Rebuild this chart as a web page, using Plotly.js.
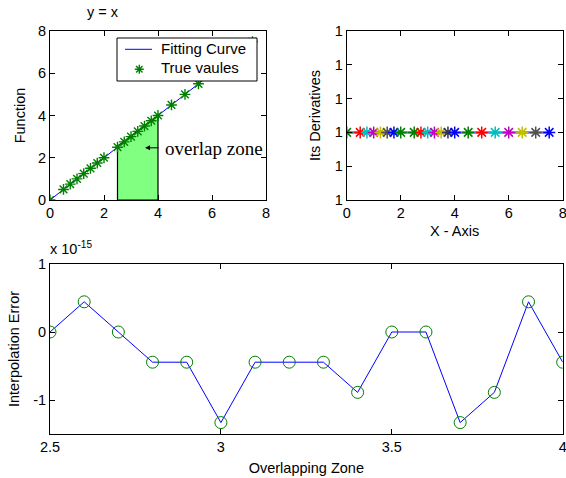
<!DOCTYPE html>
<html>
<head>
<meta charset="utf-8">
<script src="https://cdn.plot.ly/plotly-3.0.1.min.js"></script>
<style>html,body{margin:0;padding:0;background:#fff;}#chart{width:566px;height:478px;}</style>
</head>
<body>
<div id="chart"></div>
<script>
// ---- data ----
const sampleX = [0, 0.5, 0.75, 1, 1.25, 1.5, 1.75, 2, 2.5, 2.75, 3, 3.25, 3.5, 3.75, 4, 4.5, 5, 5.5, 6, 6.5, 7, 7.5];
const fitY    = [0, 0.5, 0.75, 1, 1.25, 1.5, 1.75, 2, 2.5, 2.75, 3, 3.25, 3.5, 3.75, 4, 4.5, 5, 5.5, 6, 6.5, 7, 7.5];
const trueY   = [0, 0.5, 0.75, 1, 1.25, 1.5, 1.75, 2, 2.5, 2.75, 3, 3.25, 3.5, 3.75, 4, 4.5, 5, 5.5, 6, 6.5, 7, 7.5];
const overlapX = [2.5, 2.5, 2.78, 4, 4, 2.5];
const overlapY = [0, 2.55, 2.8, 4, 0, 0];
const derivY  = [1, 1, 1, 1, 1, 1, 1, 1, 1, 1, 1, 1, 1, 1, 1, 1, 1, 1, 1, 1, 1, 1];
const derivColors = ['#008000','#ff0000','#00bfbf','#bf00bf','#bfbf00','#505050','#0000ff',
                     '#008000','#008000','#ff0000','#00bfbf','#bf00bf','#bfbf00','#303050','#0000ff',
                     '#008000','#ff0000','#00bfbf','#bf00bf','#bfbf00','#505050','#0000ff'];
const zoneX = [2.5, 2.6, 2.7, 2.8, 2.9, 3.0, 3.1, 3.2, 3.3, 3.4, 3.5, 3.6, 3.7, 3.8, 3.9, 4.0];
const errY  = [0, 0.444, 0, -0.444, -0.444, -1.332, -0.444, -0.444, -0.444, -0.888, 0, 0, -1.332, -0.888, 0.444, -0.444].map(v => v * 1e-15);
const errTicks = [-1e-15, 0, 1e-15];
const errTickText = ['-1', '0', '1'];
const derivTicks = [0.9998, 0.9999, 1, 1.0001, 1.0002, 1.0003];
const derivTickText = ['1', '1', '1', '1', '1', '1'];
const legendNames = ['Fitting Curve', 'True vaules'];

const W = 566, H = 478;
const px = v => v / W, py = v => (H - v) / H;
const FONT = 'Liberation Sans, Arial, sans-serif';
const FS = 14.5;

const traces = [
  {x: sampleX, y: fitY, mode: 'lines', name: legendNames[0], xaxis: 'x', yaxis: 'y',
   line: {color: '#0000ff', width: 1}},
  {x: overlapX, y: overlapY, mode: 'lines', fill: 'toself', fillcolor: 'rgb(128,255,128)',
   line: {color: '#000000', width: 1.2}, xaxis: 'x', yaxis: 'y', hoverinfo: 'skip'},
  {x: sampleX, y: trueY, mode: 'markers', name: legendNames[1], xaxis: 'x', yaxis: 'y',
   marker: {symbol: 'asterisk-open', size: 9, color: '#008000', line: {width: 1.4, color: '#008000'}}},
  {x: sampleX, y: derivY, mode: 'lines', xaxis: 'x2', yaxis: 'y2',
   line: {color: '#6b6bff', width: 2.5}},
  {x: sampleX, y: derivY, mode: 'markers', xaxis: 'x2', yaxis: 'y2',
   marker: {symbol: 'asterisk-open', size: 10, color: derivColors, line: {width: 1.5, color: derivColors}}},
  {x: zoneX, y: errY, mode: 'lines+markers', xaxis: 'x3', yaxis: 'y3',
   line: {color: '#0000ff', width: 1},
   marker: {symbol: 'circle-open', size: 12, color: '#008000', line: {width: 1, color: '#008000'}}}
];

const axBase = {showgrid: false, zeroline: false, showline: true, linecolor: '#000', linewidth: 1,
  mirror: 'ticks', ticks: 'inside', ticklen: 5, tickcolor: '#000', ticklabeloverflow: 'allow',
  tickfont: {family: FONT, size: FS, color: '#000'}};
const tfont = {family: FONT, size: FS, color: '#000'};

// manual legend box (drawn in pixel positions of the figure)
const lgL = 117, lgR = 257, lgT = 38, lgB = 81;
const mx = 139.3, my = 69.3, ms = 4.5, md = 3.2;
const astPath = [
  `M${px(mx - ms)},${py(my)} L${px(mx + ms)},${py(my)}`,
  `M${px(mx)},${py(my - ms)} L${px(mx)},${py(my + ms)}`,
  `M${px(mx - md)},${py(my - md)} L${px(mx + md)},${py(my + md)}`,
  `M${px(mx - md)},${py(my + md)} L${px(mx + md)},${py(my - md)}`
].join(' ');

const layout = {
  width: W, height: H,
  margin: {l: 0, r: 0, t: 0, b: 0},
  paper_bgcolor: '#fff', plot_bgcolor: '#fff',
  font: {family: FONT, size: FS, color: '#000'},
  showlegend: false,
  xaxis: Object.assign({}, axBase, {domain: [px(50), px(266)], range: [0, 8], tickvals: [0, 2, 4, 6, 8], anchor: 'y'}),
  yaxis: Object.assign({}, axBase, {domain: [py(200), py(31)], range: [0, 8], tickvals: [0, 2, 4, 6, 8], anchor: 'x',
    title: {text: 'Function', font: tfont, standoff: 8}}),
  xaxis2: Object.assign({}, axBase, {domain: [px(346.7), px(562.7)], range: [0, 8], tickvals: [0, 2, 4, 6, 8], anchor: 'y2',
    title: {text: 'X - Axis', font: tfont, standoff: 5}}),
  yaxis2: Object.assign({}, axBase, {domain: [py(200), py(31)], range: [0.9998, 1.0003], tickvals: derivTicks, ticktext: derivTickText, anchor: 'x2',
    title: {text: 'Its Derivatives', font: tfont, standoff: 10}}),
  xaxis3: Object.assign({}, axBase, {domain: [px(50), px(562.7)], range: [2.5, 4], tickvals: [2.5, 3, 3.5, 4], ticktext: ['2.5', '3', '3.5', '4'], anchor: 'y3',
    title: {text: 'Overlapping Zone', font: tfont, standoff: 8}}),
  yaxis3: Object.assign({}, axBase, {domain: [py(434), py(264)], range: [-1.5e-15, 1e-15], tickvals: errTicks, ticktext: errTickText, anchor: 'x3',
    title: {text: 'Interpolation Error', font: tfont, standoff: 10}}),
  shapes: [
    {type: 'rect', xref: 'paper', yref: 'paper', x0: px(lgL), x1: px(lgR), y0: py(lgB), y1: py(lgT),
     fillcolor: '#fff', line: {color: '#000', width: 1}, layer: 'above'},
    {type: 'line', xref: 'paper', yref: 'paper', x0: px(125), x1: px(152), y0: py(49.3), y1: py(49.3),
     line: {color: '#0000ff', width: 1}, layer: 'above'},
    {type: 'path', xref: 'paper', yref: 'paper', path: astPath, line: {color: '#008000', width: 1.4}, layer: 'above'}
  ],
  annotations: [
    {text: 'y = x', xref: 'paper', yref: 'paper', x: px(103), y: py(12), xanchor: 'center', yanchor: 'middle',
     showarrow: false, font: tfont},
    {text: legendNames[0], xref: 'paper', yref: 'paper', x: px(159), y: py(48.5), xanchor: 'left', yanchor: 'middle',
     showarrow: false, font: {family: FONT, size: 15, color: '#000'}},
    {text: legendNames[1], xref: 'paper', yref: 'paper', x: px(159), y: py(67.5), xanchor: 'left', yanchor: 'middle',
     showarrow: false, font: {family: FONT, size: 15, color: '#000'}},
    {text: '', xref: 'x', yref: 'y', x: 3.52, y: 2.47, axref: 'pixel', ayref: 'pixel', ax: 15, ay: 0,
     showarrow: true, arrowhead: 2, arrowsize: 1, arrowwidth: 1, arrowcolor: '#000', standoff: 0, startstandoff: 0},
    {text: 'overlap zone', xref: 'x', yref: 'y', x: 4.2, y: 2.45, xanchor: 'left', yanchor: 'middle',
     showarrow: false, font: {family: 'Liberation Serif, Times New Roman, serif', size: 19, color: '#000'}},
    {text: 'x 10<sup>-15</sup>', xref: 'paper', yref: 'paper', x: px(48), y: py(248), xanchor: 'left', yanchor: 'middle',
     showarrow: false, font: tfont}
  ]
};

Plotly.newPlot('chart', traces, layout, {staticPlot: true, displayModeBar: false});
</script>
</body>
</html>
